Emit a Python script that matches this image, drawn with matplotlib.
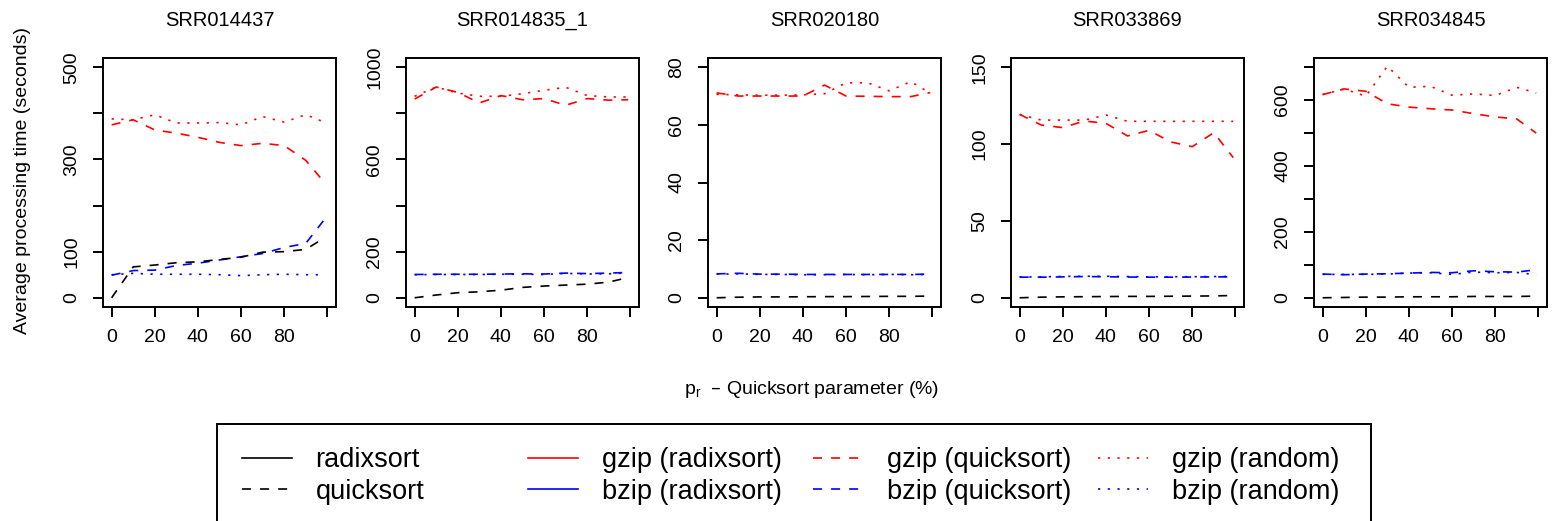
"""Время обработки vs p_r (параметр quicksort) по пяти датасетам SRR, в стиле R-графика."""
import matplotlib
matplotlib.use("Agg")
import matplotlib.pyplot as plt
from matplotlib.lines import Line2D
from matplotlib.patches import Rectangle

plt.rcParams["font.family"] = ["Liberation Sans", "DejaVu Sans"]
plt.rcParams["lines.scale_dashes"] = False

# ---- данные ----
datasets = ["SRR014437", "SRR014835_1", "SRR020180", "SRR033869", "SRR034845"]
pr = [0, 10, 20, 30, 40, 50, 60, 70, 80, 90, 99]

# SRR014437
a_quick = [0, 67, 71, 76, 78, 83, 88, 99, 100, 105, 131]
a_gzip_quick = [375, 386, 364, 357, 348, 337, 330, 335, 330, 298, 248]
a_gzip_rand = [388, 386, 397, 379, 379, 380, 375, 393, 381, 397, 380]
a_bzip_quick = [49, 59, 60, 70, 75, 82, 89, 96, 109, 118, 172]
a_bzip_rand = [50, 53, 51, 51, 51, 50, 48, 50, 51, 50, 50]

# SRR014835_1
b_quick = [0, 12, 22, 26, 33, 45, 51, 55, 59, 68, 88]
b_gzip_quick = [862, 914, 891, 845, 877, 859, 864, 835, 864, 857, 859]
b_gzip_rand = [874, 914, 888, 874, 874, 885, 900, 913, 877, 871, 871]
b_bzip_quick = [101, 102, 102, 102, 103, 104, 103, 107, 105, 107, 110]
b_bzip_rand = [100, 101, 101, 101, 102, 102, 101, 106, 103, 104, 108]

# SRR020180
c_quick = [0, 0.2, 0.3, 0.3, 0.35, 0.4, 0.4, 0.45, 0.5, 0.5, 0.6]
c_gzip_quick = [71.1, 70.0, 70.0, 70.0, 70.0, 73.8, 70.0, 69.9, 69.8, 69.8, 71.2]
c_gzip_rand = [70.6, 70.4, 70.3, 70.3, 70.4, 70.8, 74.6, 74.6, 71.8, 75.0, 71.0]
c_bzip_quick = [8.3, 8.5, 8.2, 8.2, 8.1, 8.1, 8.1, 8.1, 8.1, 8.1, 8.2]
c_bzip_rand = [8.2, 8.3, 8.1, 8.1, 8.0, 8.0, 8.1, 8.0, 8.1, 8.0, 8.1]

# SRR033869
d_quick = [0, 0.4, 0.6, 0.7, 0.8, 0.9, 0.9, 1.0, 1.1, 1.2, 1.5]
d_gzip_quick = [119.3, 112.4, 110.7, 115.0, 113.5, 105.3, 108.9, 101.4, 98.3, 107.4, 91.2]
d_gzip_rand = [119.3, 115.6, 115.6, 115.6, 118.9, 114.8, 114.8, 114.8, 114.8, 114.8, 114.8]
d_bzip_quick = [13.4, 13.4, 13.6, 13.8, 13.7, 13.5, 13.4, 13.4, 13.5, 13.6, 13.6]
d_bzip_rand = [13.5, 13.6, 13.9, 14.0, 14.0, 13.8, 13.6, 13.7, 13.7, 13.8, 13.9]

# SRR034845
e_quick = [0, 1, 2, 2, 3, 3, 3, 4, 4, 4, 5]
e_gzip_quick = [617, 634, 627, 589, 579, 574, 570, 559, 549, 543, 500]
e_gzip_rand = [617, 634, 612, 703, 639, 642, 615, 619, 614, 639, 622]
e_bzip_quick = [72, 70, 72, 73, 75, 77, 76, 82, 79, 78, 85]
e_bzip_rand = [71, 71, 71, 72, 75, 76, 71, 78, 76, 77, 70]

# верх шкалы, шаг тиков и какие подписи R оставил (остальные выкинул из-за наложения)
y_top = [500, 1000, 80, 150, 700]
y_step = [100, 200, 20, 50, 100]
y_shown = [[0, 100, 300, 500], [0, 200, 600, 1000], [0, 20, 40, 60, 80],
           [0, 50, 100, 150], [0, 200, 400, 600]]

series = [
    (a_quick, a_gzip_quick, a_gzip_rand, a_bzip_quick, a_bzip_rand),
    (b_quick, b_gzip_quick, b_gzip_rand, b_bzip_quick, b_bzip_rand),
    (c_quick, c_gzip_quick, c_gzip_rand, c_bzip_quick, c_bzip_rand),
    (d_quick, d_gzip_quick, d_gzip_rand, d_bzip_quick, d_bzip_rand),
    (e_quick, e_gzip_quick, e_gzip_rand, e_bzip_quick, e_bzip_rand),
]

# ---- стиль ----
W, H = 1553, 521
LW = 1.2       # линии данных
BW = 1.4       # рамки, тики
DASH = (0, (6.5, 6.5))
DOT = (0, (1.6, 5.4))
FS = 14

fig = plt.figure(figsize=(W / 100, H / 100), dpi=100)

lefts = [103, 406, 708, 1011, 1314]
top, pw, ph = 58, 233, 249

for i, name in enumerate(datasets):
    ax = fig.add_axes([lefts[i] / W, 1 - (top + ph) / H, pw / W, ph / H])
    quick, gzq, gzr, bzq, bzr = series[i]
    ax.plot(pr, gzr, color="red", lw=LW, ls=DOT)
    ax.plot(pr, bzr, color="blue", lw=LW, ls=DOT)
    ax.plot(pr, gzq, color="red", lw=LW, ls=DASH)
    ax.plot(pr, bzq, color="blue", lw=LW, ls=DASH)
    ax.plot(pr, quick, color="black", lw=LW, ls=DASH)

    ax.set_xlim(-4, 104)
    ax.set_xticks(range(0, 101, 20))
    ax.set_xticklabels([str(v) if v < 100 else "" for v in range(0, 101, 20)])

    yt = list(range(0, y_top[i] + 1, y_step[i]))
    pad = 0.04 * y_top[i]
    ax.set_ylim(-pad, y_top[i] + pad)
    ax.set_yticks(yt)
    ax.set_yticklabels([str(v) if v in y_shown[i] else "" for v in yt],
                       rotation=90, va="center")

    ax.tick_params(axis="both", direction="out", length=7.5, width=BW,
                   labelsize=FS, color="black")
    ax.tick_params(axis="x", pad=8)
    ax.tick_params(axis="y", pad=9)
    for sp in ax.spines.values():
        sp.set_linewidth(BW)

    fig.text((lefts[i] + pw / 2) / W, 1 - 20 / H, name, ha="center", va="center",
             fontsize=14.5)

fig.text(23 / W, 1 - 180 / H, "Average processing time (seconds)",
         rotation=90, ha="center", va="center", fontsize=FS)
fig.text(812 / W, 1 - 390 / H, r"$\mathregular{p_r}$  – Quicksort parameter (%)",
         ha="center", va="center", fontsize=FS)

# ---- легенда: 4 колонки равной ширины, как в R ----
def h(color, ls):
    return Line2D([], [], color=color, lw=LW, ls=ls)

columns = [
    ([h("black", "-"), h("black", DASH)], ["radixsort", "quicksort"]),
    ([h("red", "-"), h("blue", "-")], ["gzip (radixsort)", "bzip (radixsort)"]),
    ([h("red", DASH), h("blue", DASH)], ["gzip (quicksort)", "bzip (quicksort)"]),
    ([h("red", DOT), h("blue", DOT)], ["gzip (random)", "bzip (random)"]),
]
col_x = [242, 528, 813, 1098]
LFS = 19.5
for (hs, labs), cx in zip(columns, col_x):
    fig.legend(hs, labs, loc="upper left", bbox_to_anchor=(cx / W, 1 - 447 / H),
               frameon=False, borderpad=0, borderaxespad=0, fontsize=LFS,
               handlelength=36 / LFS, handletextpad=17 / LFS, labelspacing=0.22)

fig.add_artist(Rectangle((217 / W, 1 - 526 / H), (1371 - 217) / W, 102 / H,
                         transform=fig.transFigure, fill=False, lw=BW,
                         edgecolor="black", clip_on=False))

fig.savefig("out.png", dpi=100)
